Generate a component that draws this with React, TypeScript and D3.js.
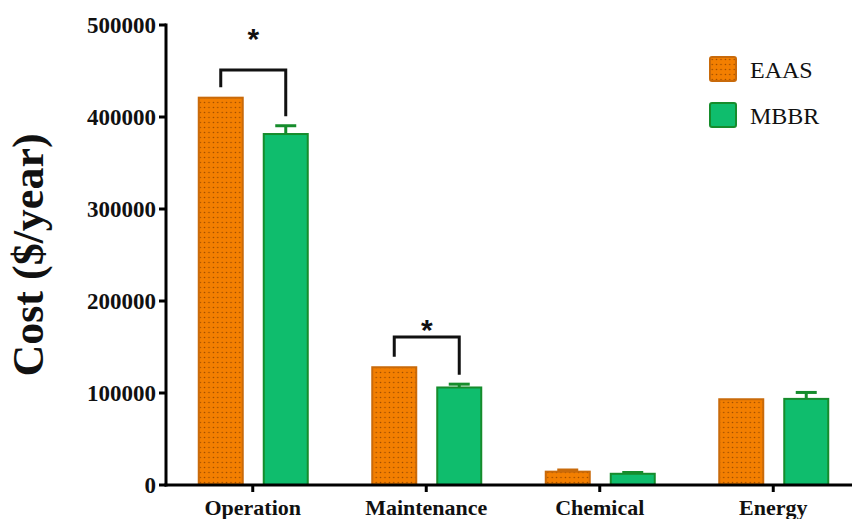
import React from "react";
import * as d3 from "d3";

// Annual cost by category for the two treatment processes
const categories = ["Operation", "Maintenance", "Chemical", "Energy"];
const seriesNames = ["EAAS", "MBBR"];
const eaasCost = [421000, 128000, 14500, 93200];
const eaasError = [0, 0, 1800, 0];
const mbbrCost = [381500, 106000, 12200, 93600];
const mbbrError = [9000, 3600, 1400, 7000];
const yTicks = [0, 100000, 200000, 300000, 400000, 500000];

// Significance brackets: category, bracket height, star height
const sigCategories = ["Operation", "Maintenance"];
const sigBracketTop = [451000, 161000];
const sigStarAt = [492500, 176000];

const W = 852;
const H = 519;
const margin = { left: 166, right: -8, top: 25, bottom: 34 };

const fills = ["#F37F01", "#0FBD6D"];
const strokes = ["#C96A0A", "#168C2C"];
const serif = "'Liberation Serif', 'Times New Roman', Times, serif";
const sans = "'Liberation Sans', Arial, sans-serif";

export default function App() {
  const y = d3.scaleLinear().domain([0, 500000]).range([H - margin.bottom, margin.top]);
  const x = d3
    .scaleBand<string>()
    .domain(categories)
    .range([margin.left, W - margin.right])
    .padding(0);
  const inner = d3
    .scaleBand<string>()
    .domain(seriesNames)
    .range([-54, 55])
    .paddingInner(0.323)
    .paddingOuter(0);

  const values = [eaasCost, mbbrCost];
  const errors = [eaasError, mbbrError];
  const y0 = y(0);

  const barTopWithError = (s: number, i: number) => y(values[s][i] + errors[s][i]);

  return (
    <svg width={W} height={H} style={{ display: "block", position: "absolute", left: 0, top: 0 }}>
      <defs>
        <pattern id="dots" width={4.4} height={5} patternUnits="userSpaceOnUse">
          <rect width={4.4} height={5} fill={fills[0]} />
          <circle cx={2.2} cy={2.5} r={0.75} fill="#9A4A00" />
        </pattern>
      </defs>
      <rect width={W} height={H} fill="#fff" />

      {/* bars */}
      {seriesNames.map((s, si) =>
        categories.map((c, ci) => {
          const bx = (x(c) as number) + x.bandwidth() / 2 + (inner(s) as number);
          const bw = inner.bandwidth();
          const top = y(values[si][ci]);
          return (
            <rect
              key={s + c}
              x={bx}
              y={top}
              width={bw}
              height={y0 - top}
              fill={si === 0 ? "url(#dots)" : fills[si]}
              stroke={strokes[si]}
              strokeWidth={2}
            />
          );
        })
      )}

      {/* error bars */}
      {seriesNames.map((s, si) =>
        categories.map((c, ci) => {
          if (!errors[si][ci]) return null;
          const cx = (x(c) as number) + x.bandwidth() / 2 + (inner(s) as number) + inner.bandwidth() / 2;
          const top = y(values[si][ci]);
          const cap = y(values[si][ci] + errors[si][ci]);
          return (
            <g key={"e" + s + c} stroke={strokes[si]} strokeWidth={3}>
              <line x1={cx} x2={cx} y1={top} y2={cap} />
              <line x1={cx - 10.5} x2={cx + 10.5} y1={cap} y2={cap} />
            </g>
          );
        })
      )}

      {/* significance brackets */}
      {sigCategories.map((c, k) => {
        const ci = categories.indexOf(c);
        const cx0 = (x(c) as number) + x.bandwidth() / 2;
        const lx = cx0 + (inner("EAAS") as number) + inner.bandwidth() / 2;
        const rx = cx0 + (inner("MBBR") as number) + inner.bandwidth() / 2;
        const ty = y(sigBracketTop[k]);
        const ly = barTopWithError(0, ci) - 10.5;
        const ry = barTopWithError(1, ci) - 9.5;
        const sy = y(sigStarAt[k]);
        return (
          <g key={"sig" + c}>
            <path
              d={`M${lx},${ly}V${ty}H${rx}V${ry}`}
              fill="none"
              stroke="#111"
              strokeWidth={3}
            />
            <text
              x={(lx + rx) / 2}
              y={sy + 0.56 * 30}
              textAnchor="middle"
              fontFamily={sans}
              fontWeight="bold"
              fontSize={30}
              fill="#111"
            >
              *
            </text>
          </g>
        );
      })}

      {/* y axis */}
      <line x1={margin.left} x2={margin.left} y1={margin.top - 1.5} y2={y0 + 1.5} stroke="#000" strokeWidth={3} />
      {yTicks.map((t) => (
        <g key={"yt" + t}>
          <line x1={margin.left - 7} x2={margin.left} y1={y(t)} y2={y(t)} stroke="#000" strokeWidth={3} />
          <text
            x={margin.left - 10}
            y={y(t)}
            dy="0.34em"
            textAnchor="end"
            fontFamily={serif}
            fontWeight="bold"
            fontSize={23}
            fill="#111"
          >
            {t}
          </text>
        </g>
      ))}

      {/* x axis */}
      <line x1={margin.left - 1.5} x2={W} y1={y0} y2={y0} stroke="#000" strokeWidth={3} />
      {categories.map((c) => {
        const cx = (x(c) as number) + x.bandwidth() / 2;
        return (
          <g key={"xt" + c}>
            <line x1={cx} x2={cx} y1={y0} y2={y0 + 7} stroke="#000" strokeWidth={3} />
            <text
              x={cx}
              y={y0 + 30}
              textAnchor="middle"
              fontFamily={serif}
              fontWeight="bold"
              fontSize={22}
              fill="#111"
            >
              {c}
            </text>
          </g>
        );
      })}

      {/* y axis title */}
      <text
        transform={`translate(43, ${(margin.top + y0) / 2}) rotate(-90)`}
        textAnchor="middle"
        fontFamily={serif}
        fontWeight="bold"
        fontSize={44}
        fill="#111"
      >
        Cost ($/year)
      </text>

      {/* legend */}
      {seriesNames.map((s, si) => (
        <g key={"lg" + s} transform={`translate(710, ${57 + si * 46})`}>
          <rect
            x={0}
            y={0}
            width={26}
            height={24}
            rx={2}
            fill={si === 0 ? "url(#dots)" : fills[si]}
            stroke={strokes[si]}
            strokeWidth={2}
          />
          <text x={40} y={21} fontFamily={serif} fontSize={24} fill="#111">
            {s}
          </text>
        </g>
      ))}
    </svg>
  );
}
